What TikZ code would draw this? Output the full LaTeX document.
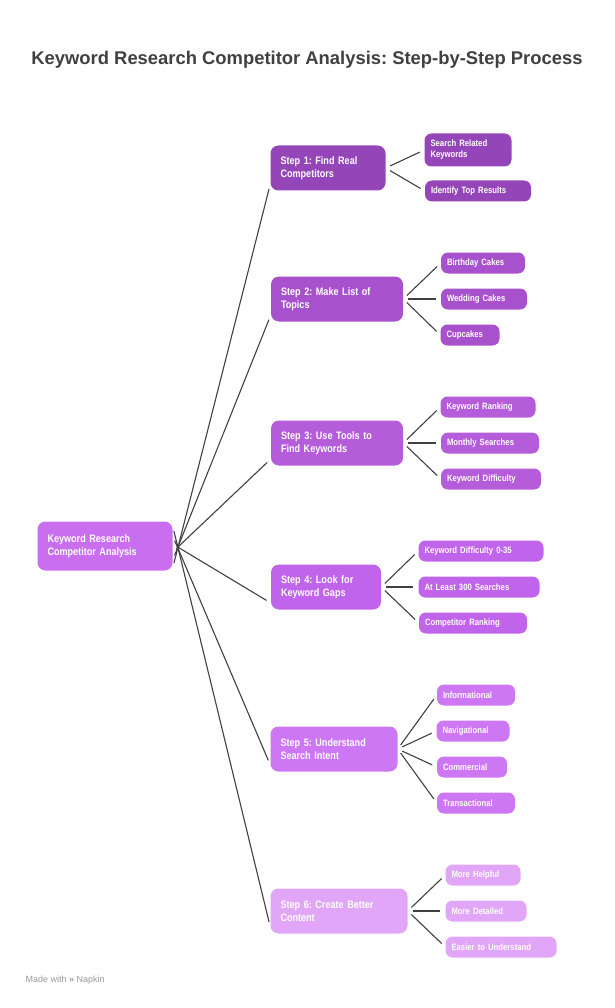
\documentclass[tikz,border=0pt]{standalone}
\usepackage{fontspec}
\setmainfont{Liberation Sans}
\newfontfamily\narrowfont[FakeStretch=0.84]{Liberation Sans}
\usetikzlibrary{positioning}
\definecolor{cRoot}{HTML}{CA6EF0}
\definecolor{cA}{HTML}{9446B8}
\definecolor{cB}{HTML}{A752CC}
\definecolor{cC}{HTML}{B45CDA}
\definecolor{cD}{HTML}{C064EC}
\definecolor{cE}{HTML}{CD77F4}
\definecolor{cF}{HTML}{E2A6F8}
\tikzset{
  stepbox/.style={rounded corners=8pt, text=white, font=\narrowfont\bfseries\fontsize{10.8}{13}\selectfont, align=left, minimum height=45pt, inner xsep=10pt},
  leaf/.style={rounded corners=7pt, text=white, font=\narrowfont\bfseries\fontsize{9.2}{11}\selectfont, align=left, minimum height=21pt, inner xsep=6pt},
  link/.style={draw=black!75, line width=1.1pt, shorten <=5pt, shorten >=5pt}
}
\frenchspacing
\begin{document}
\begin{tikzpicture}[x=1pt, y=-1pt]
\useasboundingbox (0,0) rectangle (614,1008);

% title
\node (title) at (307,60) {\bfseries\fontsize{18.4}{21}\selectfont\color{black!75}Keyword Research Competitor Analysis: Step-by-Step Process};

% root
\node[stepbox, fill=cRoot, minimum width=135pt, minimum height=49pt, text width=115pt] (root) at (105,546) {Keyword Research\\Competitor Analysis};

% steps
\node[stepbox, fill=cA, text width=95pt] (s1) at (328,168) {Step 1: Find Real\\Competitors};
\node[stepbox, fill=cB, text width=112pt] (s2) at (337,299) {Step 2: Make List of\\Topics};
\node[stepbox, fill=cC, text width=112pt] (s3) at (337,443) {Step 3: Use Tools to\\Find Keywords};
\node[stepbox, fill=cD, text width=90pt] (s4) at (326,587) {Step 4: Look for\\Keyword Gaps};
\node[stepbox, fill=cE, text width=107pt] (s5) at (334,749) {Step 5: Understand\\Search Intent};
\node[stepbox, fill=cF, text width=117pt] (s6) at (339,911) {Step 6: Create Better\\Content};

% leaves
\node[leaf, fill=cA, text width=75pt, minimum height=33pt] (s1a) at (468,150) {Search Related\\Keywords};
\node[leaf, fill=cA, text width=94pt] (s1b) at (478,191) {Identify Top Results};
\node[leaf, fill=cB, text width=72pt] (s2a) at (483,263) {Birthday Cakes};
\node[leaf, fill=cB, text width=74pt] (s2b) at (484,299) {Wedding Cakes};
\node[leaf, fill=cB, text width=47pt] (s2c) at (470,335) {Cupcakes};
\node[leaf, fill=cC, text width=83pt] (s3a) at (488,407) {Keyword Ranking};
\node[leaf, fill=cC, text width=86pt] (s3b) at (490,443) {Monthly Searches};
\node[leaf, fill=cC, text width=88pt] (s3c) at (491,479) {Keyword Difficulty};
\node[leaf, fill=cD, text width=113pt] (s4a) at (481,551) {Keyword Difficulty 0-35};
\node[leaf, fill=cD, text width=109pt] (s4b) at (479,587) {At Least 300 Searches};
\node[leaf, fill=cD, text width=96pt] (s4c) at (473,623) {Competitor Ranking};
\node[leaf, fill=cE, text width=66pt] (s5a) at (476,695) {Informational};
\node[leaf, fill=cE, text width=61pt] (s5b) at (473,731) {Navigational};
\node[leaf, fill=cE, text width=58pt] (s5c) at (472,767) {Commercial};
\node[leaf, fill=cE, text width=66pt] (s5d) at (476,803) {Transactional};
\node[leaf, fill=cF, text width=63pt] (s6a) at (483,875) {More Helpful};
\node[leaf, fill=cF, text width=69pt] (s6b) at (486,911) {More Detailed};
\node[leaf, fill=cF, text width=99pt] (s6c) at (501,947) {Easier to Understand};

% root to steps
\foreach \s/\a in {s1/-22, s2/-14, s3/-6, s4/2, s5/10, s6/20}
  \draw[link] ([yshift=\a pt]root.east) -- ([yshift=-16pt]\s.west);

% steps to leaves
\foreach \s/\l in {s1/s1a, s1/s1b, s2/s2a, s2/s2b, s2/s2c, s3/s3a, s3/s3b, s3/s3c,
                   s4/s4a, s4/s4b, s4/s4c, s5/s5a, s5/s5b, s5/s5c, s5/s5d,
                   s6/s6a, s6/s6b, s6/s6c}
  \draw[link] (\s.east) -- (\l.west);

% footer
\node[anchor=west, text=black!40, font=\fontsize{9}{11}\selectfont] (made) at (22,980) {Made with \textbf{\guillemotright} Napkin};
\end{tikzpicture}
\end{document}
